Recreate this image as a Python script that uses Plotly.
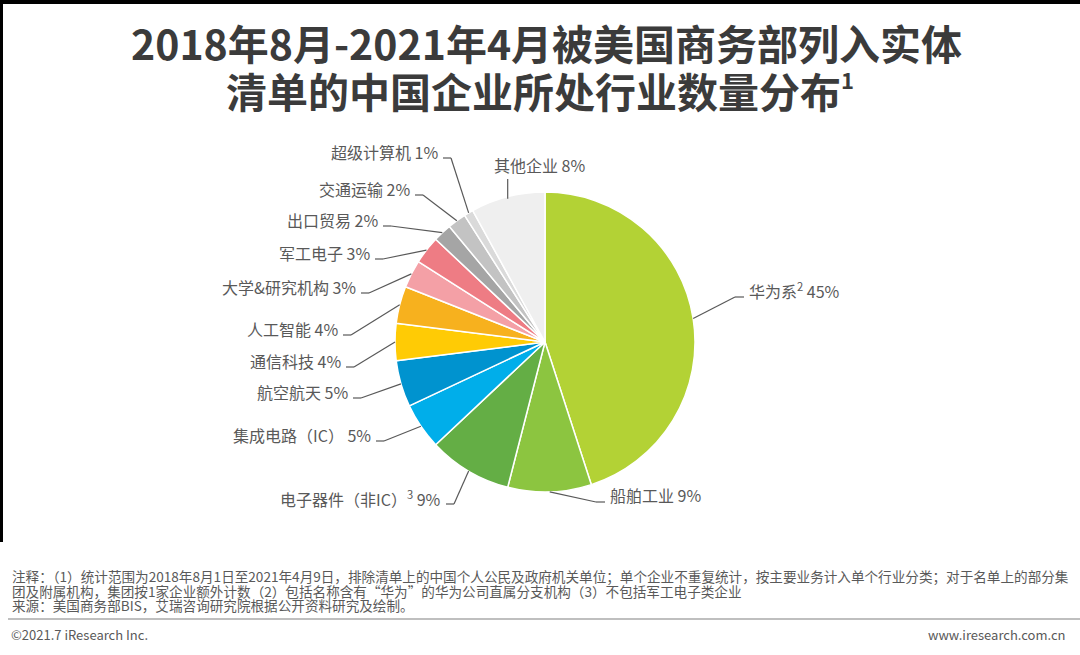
import math
import plotly.graph_objects as go

W, H = 1080, 655

# data
industries = ["华为系", "船舶工业", "电子器件（非IC）", "集成电路（IC）", "航空航天", "通信科技",
              "人工智能", "大学&研究机构", "军工电子", "出口贸易", "交通运输", "超级计算机", "其他企业"]
shares = [45, 9, 9, 5, 5, 4, 4, 3, 3, 2, 2, 1, 8]
label_text = ["华为系<sup>2</sup> 45%", "船舶工业 9%", "电子器件（非IC）<sup>3</sup> 9%", "集成电路（IC） 5%",
              "航空航天 5%", "通信科技 4%", "人工智能 4%", "大学&研究机构 3%", "军工电子 3%",
              "出口贸易 2%", "交通运输 2%", "超级计算机 1%", "其他企业 8%"]
colors = ["#B3D235", "#8CC540", "#64AE45", "#00AEEA", "#0093CF", "#FFCB05", "#F7B11E",
          "#F4A0A6", "#EE7C84", "#A5A5A5", "#C3C3C3", "#DADADA", "#EFEFEF"]

# layout of the pie (pixels)
cx, cy, r = 545, 342, 150

# label placement (pixels): text x, text y, side of the pie the label sits on
label_pos = [
    (747, 290, "right"), (608, 495, "right"), (443, 498, "left"), (373, 435, "left"),
    (350, 392, "left"), (343, 361, "left"), (340, 329, "left"), (358, 287, "left"),
    (372, 253, "left"), (380, 220, "left"), (412, 189, "left"), (440, 152, "left"),
    (492, 165, "top"),
]


def px(x):
    return x / W


def py(y):
    return 1 - y / H


fig = go.Figure(go.Pie(
    labels=industries, values=shares, sort=False, direction="clockwise", rotation=0,
    marker=dict(colors=colors, line=dict(color="white", width=1.5)),
    textinfo="none", hoverinfo="label+percent", showlegend=False,
    domain=dict(x=[px(cx - r), px(cx + r)], y=[py(cy + r), py(cy - r)]),
))

shapes = []
annotations = []
total = sum(shares)
cum = 0
for i, v in enumerate(shares):
    theta = 2 * math.pi * (cum + v / 2) / total
    cum += v
    wx = cx + r * math.sin(theta)
    wy = cy - r * math.cos(theta)
    tx, ty, side = label_pos[i]
    if side == "left":
        pts = [(tx + 3, ty + 6), (tx + 11, ty + 6), (wx, wy)]
        xa = "right"
    elif side == "right":
        pts = [(tx - 3, ty + 7), (tx - 12, ty + 7), (wx, wy)]
        xa = "left"
    else:
        pts = [(wx, ty + 14), (wx, wy + 2)]
        xa = "left"
    for (x0, y0), (x1, y1) in zip(pts[:-1], pts[1:]):
        shapes.append(dict(type="line", xref="paper", yref="paper",
                           x0=px(x0), y0=py(y0), x1=px(x1), y1=py(y1),
                           line=dict(color="#595959", width=1.2)))
    annotations.append(dict(text=label_text[i], x=px(tx), y=py(ty), xref="paper", yref="paper",
                            xanchor=xa, yanchor="middle", showarrow=False,
                            font=dict(size=16, color="#595959")))

# title
annotations.append(dict(text="<b>2018年8月-2021年4月被美国商务部列入实体</b>", x=px(546), y=py(42),
                        xref="paper", yref="paper", showarrow=False, xanchor="center", yanchor="middle",
                        font=dict(size=41, color="#3B3B3B")))
annotations.append(dict(text="<b>清单的中国企业所处行业数量分布</b>", x=px(533), y=py(90),
                        xref="paper", yref="paper", showarrow=False, xanchor="center", yanchor="middle",
                        font=dict(size=41, color="#3B3B3B")))
annotations.append(dict(text="<b>1</b>", x=px(839), y=py(79), xref="paper", yref="paper",
                        showarrow=False, xanchor="left", yanchor="middle",
                        font=dict(size=22, color="#3B3B3B")))

# notes
notes = [
    "注释：（1）统计范围为2018年8月1日至2021年4月9日，排除清单上的中国个人公民及政府机关单位；单个企业不重复统计，按主要业务计入单个行业分类；对于名单上的部分集",
    "团及附属机构，集团按1家企业额外计数（2）包括名称含有“华为”的华为公司直属分支机构（3）不包括军工电子类企业",
    "来源：美国商务部BIS，艾瑞咨询研究院根据公开资料研究及绘制。",
]
for k, line in enumerate(notes):
    annotations.append(dict(text=line, x=px(10), y=py(576 + 14.5 * k), xref="paper", yref="paper",
                            showarrow=False, xanchor="left", yanchor="middle",
                            font=dict(size=13.6, color="#595959")))
annotations.append(dict(text="©2021.7 iResearch Inc.", x=px(9), y=py(634), xref="paper", yref="paper",
                        showarrow=False, xanchor="left", yanchor="middle",
                        font=dict(size=13, color="#595959")))
annotations.append(dict(text="www.iresearch.com.cn", x=px(1068), y=py(634), xref="paper", yref="paper",
                        showarrow=False, xanchor="right", yanchor="middle",
                        font=dict(size=13, color="#595959")))

# separator and the dark edges of the scan
shapes.append(dict(type="line", xref="paper", yref="paper", x0=px(8), x1=1, y0=py(619), y1=py(619),
                   line=dict(color="#BFBFBF", width=2)))
shapes.append(dict(type="rect", xref="paper", yref="paper", x0=0, x1=1, y0=py(4), y1=1,
                   fillcolor="black", line=dict(width=0)))
shapes.append(dict(type="rect", xref="paper", yref="paper", x0=0, x1=px(3), y0=py(542), y1=1,
                   fillcolor="black", line=dict(width=0)))

fig.update_layout(
    width=W, height=H, margin=dict(l=0, r=0, t=0, b=0),
    paper_bgcolor="white", plot_bgcolor="white",
    font=dict(family="Noto Sans CJK SC, Noto Sans, sans-serif", color="#595959"),
    shapes=shapes, annotations=annotations,
)

fig.write_html("out.html", config={"displayModeBar": False},
               post_script="document.body.style.margin='0';document.body.style.overflow='hidden';")
